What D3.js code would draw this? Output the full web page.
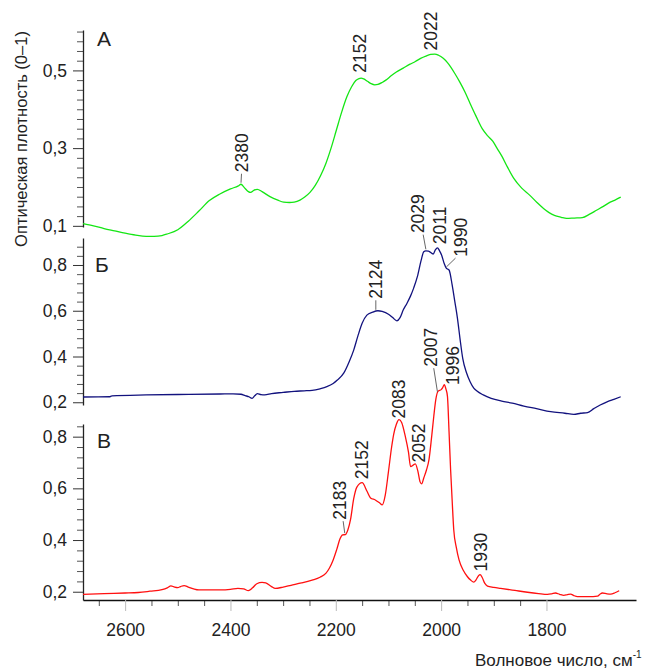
<!DOCTYPE html>
<html>
<head>
<meta charset="utf-8">
<script src="https://cdn.jsdelivr.net/npm/d3@7"></script>
<style>
  body { margin: 0; background: #fff; }
  svg { display: block; font-family: "Liberation Sans", Arial, sans-serif; }
</style>
</head>
<body>
<svg></svg>
<script>
// --- data (wavenumber, cm-1 / optical density) ---
var wnA = [2680, 2660, 2640, 2620, 2600, 2580, 2560, 2545, 2530, 2520, 2500, 2480, 2460, 2440, 2420, 2400, 2385, 2380, 2374, 2366, 2362, 2355, 2349, 2340, 2325, 2310, 2299, 2288, 2279, 2268, 2259, 2249, 2239, 2229, 2219, 2209, 2199, 2189, 2179, 2170, 2162, 2156, 2152, 2147, 2140, 2133, 2126, 2120, 2112, 2105, 2095, 2085, 2072, 2059, 2049, 2039, 2029, 2020, 2012, 2005, 1996, 1988, 1982, 1974, 1965, 1955, 1945, 1934, 1922, 1912, 1902, 1894, 1885, 1874, 1862, 1847, 1832, 1818, 1805, 1795, 1785, 1772, 1762, 1747, 1732, 1718, 1705, 1692, 1679, 1669, 1659];
var odA = [0.106, 0.100, 0.093, 0.087, 0.081, 0.076, 0.073, 0.073, 0.075, 0.079, 0.090, 0.112, 0.138, 0.165, 0.182, 0.195, 0.203, 0.207, 0.199, 0.188, 0.186, 0.192, 0.194, 0.188, 0.175, 0.166, 0.161, 0.160, 0.161, 0.166, 0.174, 0.186, 0.204, 0.229, 0.260, 0.300, 0.346, 0.392, 0.432, 0.458, 0.474, 0.479, 0.480, 0.478, 0.472, 0.466, 0.463, 0.464, 0.469, 0.475, 0.486, 0.496, 0.506, 0.516, 0.523, 0.531, 0.537, 0.541, 0.542, 0.539, 0.531, 0.520, 0.509, 0.492, 0.471, 0.445, 0.415, 0.383, 0.350, 0.332, 0.318, 0.300, 0.280, 0.251, 0.222, 0.197, 0.179, 0.160, 0.144, 0.134, 0.127, 0.122, 0.119, 0.120, 0.121, 0.130, 0.140, 0.150, 0.161, 0.167, 0.174];

var wnB = [2680, 2630, 2625, 2560, 2500, 2420, 2395, 2380, 2372, 2365, 2359, 2354, 2349, 2342, 2335, 2322, 2300, 2279, 2260, 2245, 2230, 2217, 2205, 2197, 2185, 2175, 2166, 2158, 2150, 2141, 2130, 2120, 2112, 2100, 2092, 2084, 2078, 2072, 2065, 2058, 2052, 2045, 2038, 2033, 2029, 2024, 2015, 2011, 2007, 2003, 1999, 1994, 1990, 1985, 1979, 1974, 1969, 1964, 1959, 1952, 1945, 1938, 1932, 1920, 1905, 1885, 1865, 1843, 1819, 1792, 1765, 1748, 1735, 1722, 1710, 1698, 1684, 1672, 1659];
var odB = [0.223, 0.224, 0.228, 0.232, 0.234, 0.236, 0.237, 0.235, 0.229, 0.224, 0.217, 0.228, 0.238, 0.233, 0.232, 0.238, 0.243, 0.248, 0.250, 0.252, 0.259, 0.268, 0.282, 0.297, 0.327, 0.375, 0.428, 0.490, 0.545, 0.581, 0.594, 0.600, 0.597, 0.585, 0.570, 0.556, 0.570, 0.603, 0.632, 0.665, 0.700, 0.750, 0.820, 0.858, 0.862, 0.861, 0.848, 0.866, 0.875, 0.862, 0.843, 0.805, 0.785, 0.778, 0.712, 0.640, 0.567, 0.475, 0.392, 0.330, 0.290, 0.262, 0.249, 0.232, 0.217, 0.205, 0.196, 0.183, 0.172, 0.159, 0.152, 0.147, 0.152, 0.155, 0.172, 0.188, 0.203, 0.213, 0.224];

var wnC = [2680, 2640, 2600, 2575, 2553, 2530, 2520, 2513, 2506, 2500, 2495, 2488, 2480, 2470, 2460, 2420, 2400, 2386, 2375, 2366, 2358, 2350, 2340, 2333, 2322, 2315, 2300, 2285, 2265, 2245, 2230, 2219, 2212, 2205, 2198, 2192, 2187, 2182, 2177, 2172, 2166, 2160, 2150, 2141, 2134, 2125, 2116, 2112, 2106, 2100, 2094, 2090, 2085, 2080, 2075, 2068, 2062, 2058, 2053, 2049, 2044, 2040, 2037, 2033, 2028, 2023, 2018, 2014, 2010, 2006, 2000, 1997, 1994, 1991, 1988, 1985, 1982, 1979, 1976, 1971, 1966, 1958, 1950, 1944, 1938, 1934, 1929, 1926, 1922, 1917, 1912, 1900, 1887, 1860, 1836, 1815, 1798, 1790, 1783, 1775, 1767, 1760, 1754, 1748, 1741, 1720, 1703, 1698, 1694, 1685, 1678, 1670, 1662];
var odC = [0.190, 0.193, 0.195, 0.197, 0.202, 0.208, 0.215, 0.223, 0.218, 0.216, 0.220, 0.224, 0.218, 0.211, 0.207, 0.207, 0.209, 0.213, 0.211, 0.204, 0.215, 0.231, 0.236, 0.234, 0.220, 0.213, 0.218, 0.225, 0.234, 0.245, 0.256, 0.271, 0.292, 0.323, 0.365, 0.405, 0.420, 0.421, 0.440, 0.480, 0.560, 0.605, 0.622, 0.590, 0.563, 0.555, 0.542, 0.536, 0.575, 0.665, 0.760, 0.810, 0.848, 0.866, 0.855, 0.801, 0.740, 0.684, 0.690, 0.695, 0.665, 0.625, 0.617, 0.640, 0.670, 0.712, 0.800, 0.878, 0.945, 0.975, 0.982, 0.990, 1.001, 0.985, 0.956, 0.820, 0.672, 0.550, 0.439, 0.370, 0.323, 0.283, 0.258, 0.245, 0.237, 0.245, 0.262, 0.266, 0.255, 0.232, 0.222, 0.217, 0.213, 0.205, 0.198, 0.193, 0.190, 0.192, 0.195, 0.190, 0.186, 0.189, 0.191, 0.185, 0.181, 0.181, 0.183, 0.191, 0.195, 0.192, 0.191, 0.196, 0.204];

// peak labels (wavenumbers written on the chart)
var peaksA = [2380, 2152, 2022];
var peaksB = [2124, 2029, 2011, 1990];
var peaksC = [2183, 2152, 2083, 2052, 2007, 1996, 1930];

var panelNames = ["А", "Б", "В"];
var majorA = [0.1, 0.3, 0.5];
var majorBC = [0.2, 0.4, 0.6, 0.8];
var xMajor = [2600, 2400, 2200, 2000, 1800];
var xMinor = [2650, 2550, 2500, 2450, 2350, 2300, 2250, 2150, 2100, 2050, 1950, 1900, 1850];

var yTitle = "Оптическая плотность (0–1)";
var xTitle = "Волновое число, см";

// --- layout ---
var width = 654, height = 672;
var svg = d3.select("svg").attr("width", width).attr("height", height);

var x = d3.scaleLinear().domain([2680, 1630]).range([83, 636]);

var panels = [
    { name: panelNames[0], wn: wnA, od: odA, peaks: peaksA, color: "#14e614",
      y: d3.scaleLinear().domain([0.097, 0.604]).range([227, 30]),
      major: majorA, minorStep: 0.025, minorFrom: 0.1, minorTo: 0.6,
      letter: [97, 46],
      lab: [{dx: 0.5, gap: 12, lead: 0}, {dx: -1.4, gap: 5.5}, {dx: 1.2, gap: 4.4}] },
    { name: panelNames[1], wn: wnB, od: odB, peaks: peaksB, color: "#12127e",
      y: d3.scaleLinear().domain([0.188, 0.918]).range([405, 238]),
      major: majorBC, minorStep: 0.04, minorFrom: 0.2, minorTo: 0.88,
      letter: [95, 272],
      lab: [{dx: 0, gap: 12.5, lead: 0}, {dx: -8.4, gap: 17.7, lead: 5.7}, {dx: 4.8, gap: 5.7}, {dx: 14.4, gap: 11.8, lead: -5.3}] },
    { name: panelNames[2], wn: wnC, od: odC, peaks: peaksC, color: "#ff1010",
      y: d3.scaleLinear().domain([0.168, 0.849]).range([600, 424]),
      major: majorBC, minorStep: 0.04, minorFrom: 0.2, minorTo: 0.84,
      letter: [97, 448],
      lab: [{dx: -5, gap: 15, lead: 3.4}, {dx: 1, gap: 4.4}, {dx: 1.3, gap: 4}, {dx: 5.5, gap: 2.3},
            {dx: -7, gap: 26.7, lead: 3.3}, {dx: 10, gap: 1.7}, {dx: 2.5, gap: 5}] }
];

var fmt = function(d) { return d3.format(".1f")(d).replace(".", ","); };
var textColor = "#222";

panels.forEach(function(p) {
    // minor ticks
    var minors = d3.range(Math.round((p.minorTo - p.minorFrom) / p.minorStep) + 1)
        .map(function(i) { return +(p.minorFrom + i * p.minorStep).toFixed(3); })
        .filter(function(v) { return p.major.indexOf(v) < 0; });

    svg.append("g")
        .attr("transform", "translate(83,0)")
        .call(d3.axisLeft(p.y).tickValues(minors).tickSize(6).tickSizeOuter(0).tickFormat(""))
        .call(function(g) { g.select(".domain").remove(); })
        .selectAll("line").attr("stroke", "#555");

    var ax = svg.append("g")
        .attr("transform", "translate(83,0)")
        .call(d3.axisLeft(p.y).tickValues(p.major).tickSize(10).tickSizeOuter(0).tickPadding(6).tickFormat(fmt));
    ax.select(".domain").attr("stroke", "#222").attr("stroke-width", 1.3);
    ax.selectAll("line").attr("stroke", "#333");
    ax.selectAll("text").attr("fill", textColor).style("font-size", "17.5px")
        .style("font-family", '"Liberation Sans", Arial, sans-serif');

    // panel letter
    svg.append("text")
        .attr("x", p.letter[0]).attr("y", p.letter[1])
        .attr("fill", textColor).style("font-size", "21px")
        .text(p.name);

    // spectrum
    var line = d3.line()
        .x(function(d, i) { return x(p.wn[i]); })
        .y(function(d) { return p.y(d); })
        .curve(d3.curveMonotoneX);

    svg.append("path")
        .datum(p.od)
        .attr("fill", "none")
        .attr("stroke", p.color)
        .attr("stroke-width", 1.3)
        .attr("stroke-linejoin", "round")
        .attr("d", line);

    // peak labels
    var at = d3.scaleLinear().domain(p.wn).range(p.od);
    p.peaks.forEach(function(w, i) {
        var l = p.lab[i];
        var px = x(w), py = p.y(at(w));
        var tx = px + l.dx, ty = py - l.gap;
        svg.append("text")
            .attr("transform", "translate(" + tx + "," + ty + ") rotate(-90)")
            .attr("dy", "0.35em")
            .attr("fill", textColor)
            .style("font-size", "17.5px")
            .text(w);
        if (l.lead !== undefined) {
            svg.append("line")
                .attr("x1", tx + l.lead).attr("y1", ty + 1.5)
                .attr("x2", px).attr("y2", py - 1.5)
                .attr("stroke", "#555").attr("stroke-width", 0.9);
        }
    });
});

// x axis
var xAxisG = svg.append("g").attr("transform", "translate(0,600)");
xAxisG.call(d3.axisBottom(x).tickValues(xMinor).tickSize(6).tickSizeOuter(0).tickFormat(""))
    .call(function(g) { g.select(".domain").remove(); })
    .selectAll("line").attr("stroke", "#555");
var xa = svg.append("g").attr("transform", "translate(0,600)")
    .call(d3.axisBottom(x).tickValues(xMajor).tickSize(11).tickSizeOuter(0).tickPadding(13).tickFormat(d3.format("d")));
xa.select(".domain").attr("stroke", "#111").attr("stroke-width", 1.4);
xa.selectAll("line").attr("stroke", "#bbb");
xa.selectAll("text").attr("fill", textColor).style("font-size", "17.5px")
    .style("font-family", '"Liberation Sans", Arial, sans-serif');

// axis titles
svg.append("text")
    .attr("transform", "translate(21,139) rotate(-90)")
    .attr("text-anchor", "middle")
    .attr("dy", "0.35em")
    .attr("fill", textColor)
    .style("font-size", "16.5px")
    .text(yTitle);

var xt = svg.append("text")
    .attr("x", 475).attr("y", 666)
    .attr("fill", textColor)
    .style("font-size", "17px")
    .text(xTitle);
xt.append("tspan").attr("dy", -8).style("font-size", "10px").text("-1");
</script>
</body>
</html>
